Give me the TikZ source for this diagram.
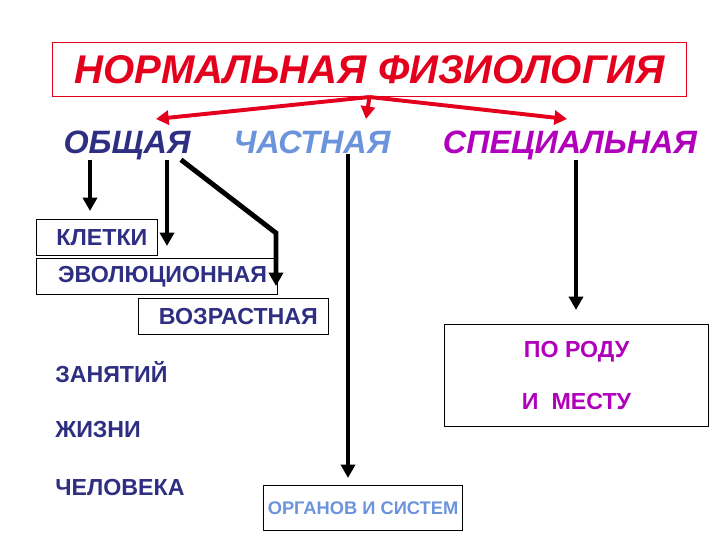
\documentclass[tikz,border=0pt]{standalone}
\usepackage{fontspec}
\setmainfont{Liberation Sans}
\usetikzlibrary{arrows.meta}

\definecolor{titlered}{HTML}{E4001C}
\definecolor{darkblue}{HTML}{2E2E82}
\definecolor{lightblue}{HTML}{6B94DC}
\definecolor{specmag}{HTML}{B000BC}

\tikzset{
  box/.style={draw,line width=0.7pt,inner sep=0pt},
  head/.style={font=\bfseries\itshape\fontsize{23}{27}\selectfont,inner sep=0pt,anchor=base},
  item/.style={font=\bfseries\fontsize{16.5}{20}\selectfont,text=darkblue},
  redarrow/.style={titlered,line width=2.8pt,-{Triangle[length=9pt,width=10pt]}},
  blkarrow/.style={line width=3.5pt,-{Triangle[length=9.5pt,width=10pt]}}
}

\begin{document}
\begin{tikzpicture}[x=0.025cm,y=-0.025cm]

	\useasboundingbox (0,0) rectangle (720,540);

	% title
	\node[box,draw=titlered,minimum width=15.85cm,minimum height=1.35cm,
	  font=\bfseries\itshape\fontsize{28.5}{32}\selectfont,text=titlered]
	  (title) at (369.5,69.5) {НОРМАЛЬНАЯ ФИЗИОЛОГИЯ};

	% three branches
	\node[head,text=darkblue] (obsh) at (127,153) {ОБЩАЯ};
	\node[head,text=lightblue] (chast) at (312,153) {ЧАСТНАЯ};
	\node[head,text=specmag] (spec) at (570,153) {СПЕЦИАЛЬНАЯ};

	\coordinate (tipl) at (156,119); \coordinate (tipm) at (366,119);
	\coordinate (tipr) at (567,119);
	\draw[redarrow] (title.south) -- (tipl);
	\draw[redarrow] (title.south) -- (tipm);
	\draw[redarrow] (title.south) -- (tipr);

	% boxes
	\node[box,item,anchor=north west,minimum width=3.025cm,minimum height=0.9cm]
	  (klet) at (36,219) {\hspace{7pt}КЛЕТКИ};
	\node[box,item,anchor=north west,minimum width=6.025cm,minimum height=0.9cm]
	  (evol) at (36,258) {\hspace{8pt}ЭВОЛЮЦИОННАЯ};
	\node[box,item,anchor=north west,minimum width=4.75cm,minimum height=0.9cm]
	  (vozr) at (138,298) {\hspace{7pt}ВОЗРАСТНАЯ};
	\node[item,anchor=west,inner sep=0pt] (zan) at (55,372) {ЗАНЯТИЙ};
	\node[item,anchor=west,inner sep=0pt] (zhiz) at (55,430) {ЖИЗНИ};
	\node[item,anchor=west,inner sep=0pt] (chel) at (55,487) {ЧЕЛОВЕКА};
	\node[box,anchor=north west,minimum width=6.6cm,minimum height=2.55cm,
	  align=center,font=\bfseries\fontsize{16.5}{37}\selectfont,text=specmag]
	  (rod) at (444,324) {ПО РОДУ\\И~ МЕСТУ};
	\node[box,anchor=north west,minimum width=4.975cm,minimum height=1.125cm,
	  font=\bfseries\fontsize{13}{16}\selectfont,text=lightblue]
	  (org) at (263,485) {ОРГАНОВ И СИСТЕМ};

	% black arrows
	\coordinate (t2) at (167,246); \coordinate (bend) at (276,233);
	\coordinate (t3) at (276,286);
	\draw[blkarrow,shorten >=5.7pt] (obsh.south -| 90,0) -- (klet.north -| 90,0);
	\draw[blkarrow] (obsh.south -| 167,0) -- (t2);
	\draw[blkarrow] ([xshift=-7pt]obsh.south east) -- (bend) -- (t3);
	\draw[blkarrow,shorten >=5pt] (chast.south -| 348,0) -- (org.north -| 348,0);
	\draw[blkarrow,shorten >=10pt] (spec.south -| 576,0) -- (rod.north -| 576,0);

\end{tikzpicture}
\end{document}
